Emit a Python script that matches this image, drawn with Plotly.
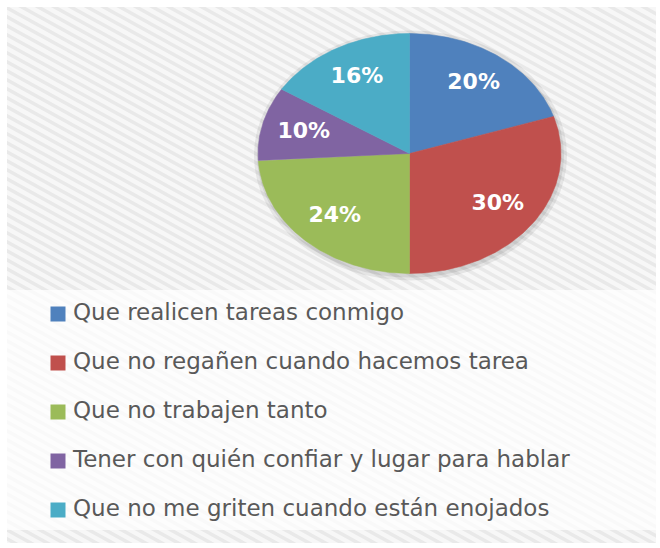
import numpy as np
import plotly.graph_objects as go

# ---- data ----
categories = [
    "Que realicen tareas conmigo",
    "Que no regañen cuando hacemos tarea",
    "Que no trabajen tanto",
    "Tener con quién confiar y lugar para hablar",
    "Que no me griten cuando están enojados",
]
values = [20, 30, 24, 10, 16]
colors = ["#4F81BD", "#C0504D", "#9BBB59", "#8064A2", "#4BACC6"]

# ---- layout geometry (pixel space of the 660x548 canvas) ----
W, H = 660, 548
cx, cy = 409.5, 153.5
rx, ry = 151.5, 120.0
label_frac = 0.72

legend_x = 58
legend_y0 = 314
legend_step = 49

fig = go.Figure()

total = float(sum(values))
cum = 0.0
for cat, v, col in zip(categories, values, colors):
    t0 = cum / total
    t1 = (cum + v) / total
    th = np.linspace(2 * np.pi * t0, 2 * np.pi * t1, 120)
    xs = np.concatenate([[cx], cx + rx * np.sin(th), [cx]])
    ys = np.concatenate([[cy], cy - ry * np.cos(th), [cy]])
    fig.add_trace(go.Scatter(
        x=xs, y=ys, mode="lines", fill="toself",
        fillcolor=col, line=dict(color=col, width=0.5),
        name=cat, hoverinfo="name", showlegend=False,
    ))
    cum += v

# slice labels
lx, ly, lt = [], [], []
cum = 0.0
for v in values:
    tm = (cum + v / 2) / total
    a = 2 * np.pi * tm
    lx.append(cx + rx * label_frac * np.sin(a))
    ly.append(cy - ry * label_frac * np.cos(a))
    lt.append(f"{v / total * 100:.0f}%")
    cum += v
fig.add_trace(go.Scatter(
    x=lx, y=ly, mode="text", text=lt, textposition="middle center",
    textfont=dict(family="DejaVu Sans", size=22, color="white", weight="bold"),
    hoverinfo="skip", showlegend=False,
))

# legend (keys + labels)
ky = [legend_y0 + legend_step * i for i in range(len(categories))]
fig.add_trace(go.Scatter(
    x=[legend_x] * len(categories), y=ky, mode="markers",
    marker=dict(symbol="square", size=15, color=colors, line=dict(width=0)),
    hoverinfo="skip", showlegend=False,
))
fig.add_trace(go.Scatter(
    x=[legend_x + 15] * len(categories), y=ky, mode="text", text=categories,
    textposition="middle right",
    textfont=dict(family="DejaVu Sans", size=23, color="#595959"),
    hoverinfo="skip", showlegend=False,
))

# ---- background decoration ----
slope = 0.55
step = 9
parts = []
c = -slope * W - 20
while c < H + 20:
    parts.append(f"M0,{c:.1f} L{W},{c + slope * W:.1f}")
    c += step
stripes = " ".join(parts)

shapes = [
    dict(type="rect", xref="x", yref="y", x0=7, x1=656, y0=7, y1=543,
         fillcolor="#f7f7f7", line=dict(width=0), layer="below"),
    dict(type="path", xref="x", yref="y", path=stripes,
         line=dict(color="#e9e9e9", width=3.5), layer="below"),
    dict(type="rect", xref="x", yref="y", x0=0, x1=W, y0=0, y1=7,
         fillcolor="white", line=dict(width=0), layer="below"),
    dict(type="rect", xref="x", yref="y", x0=0, x1=W, y0=543, y1=H,
         fillcolor="white", line=dict(width=0), layer="below"),
    dict(type="rect", xref="x", yref="y", x0=0, x1=7, y0=0, y1=H,
         fillcolor="white", line=dict(width=0), layer="below"),
    dict(type="rect", xref="x", yref="y", x0=656, x1=W, y0=0, y1=H,
         fillcolor="white", line=dict(width=0), layer="below"),
    dict(type="rect", xref="x", yref="y", x0=7, x1=656, y0=290, y1=530,
         fillcolor="rgba(255,255,255,0.72)", line=dict(width=0), layer="below"),
    # soft shadow under the pie
    dict(type="circle", xref="x", yref="y",
         x0=cx - rx - 4, x1=cx + rx + 6, y0=cy - ry - 3, y1=cy + ry + 7,
         fillcolor="rgba(0,0,0,0.07)", line=dict(width=0), layer="below"),
    dict(type="circle", xref="x", yref="y",
         x0=cx - rx - 1, x1=cx + rx + 3, y0=cy - ry, y1=cy + ry + 4,
         fillcolor="rgba(0,0,0,0.08)", line=dict(width=0), layer="below"),
]

fig.update_layout(
    width=W, height=H,
    margin=dict(l=0, r=0, t=0, b=0),
    paper_bgcolor="white", plot_bgcolor="white",
    xaxis=dict(range=[0, W], visible=False, fixedrange=True),
    yaxis=dict(range=[H, 0], visible=False, fixedrange=True),
    shapes=shapes,
    showlegend=False,
)

fig.write_html(
    "out.html",
    config={"displayModeBar": False},
    post_script="document.body.style.margin='0';document.body.style.overflow='hidden';",
)
